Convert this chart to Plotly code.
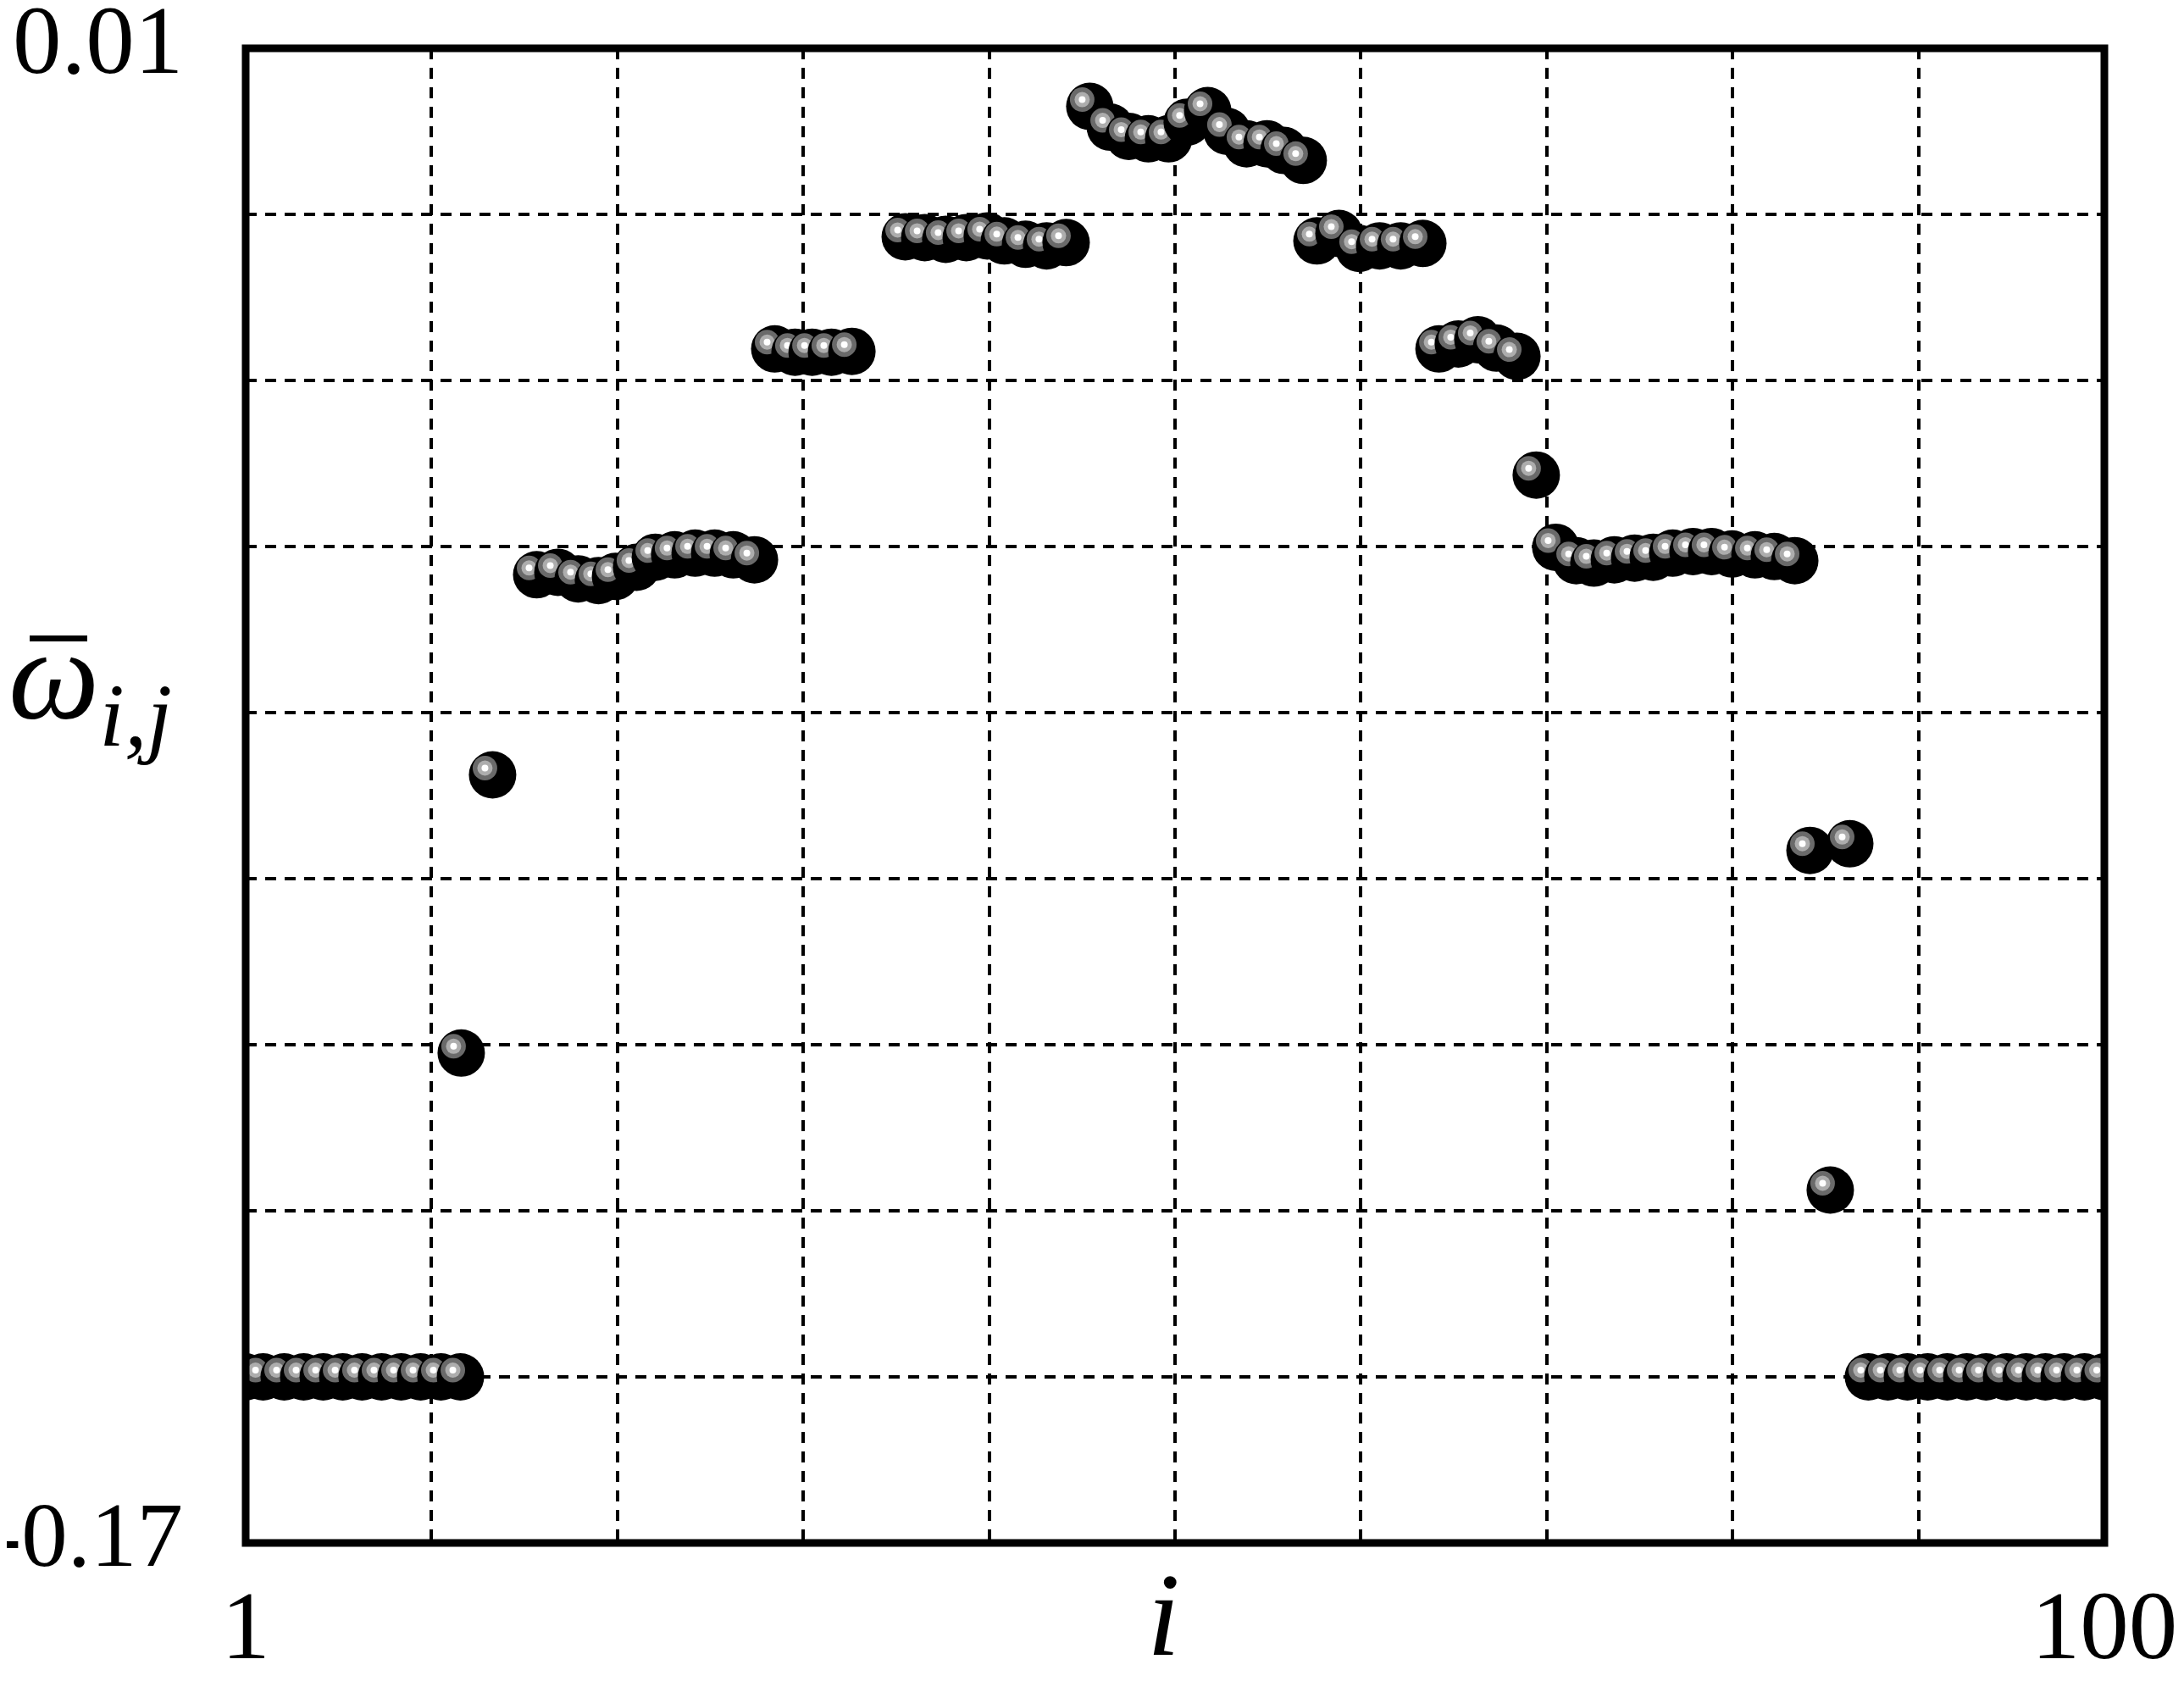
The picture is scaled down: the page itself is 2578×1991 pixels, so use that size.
import plotly.graph_objects as go

# ---- data ----
i_vals = [
    1.0, 1.93, 3.05, 4.09, 5.13, 6.17, 7.20, 8.24, 9.28, 10.32, 11.40, 12.44,
    12.48,
    14.15,
    16.50, 17.63, 18.71, 19.79, 20.70, 21.82, 22.82, 23.85, 24.94, 25.98, 26.97, 28.10,
    29.18, 30.26, 31.17, 32.20, 33.29,
    36.13, 37.17, 38.29, 39.38, 40.50, 41.41, 42.54, 43.66, 44.70,
    45.96, 47.05, 48.04, 49.08, 50.16, 51.15, 52.24, 53.27, 54.31, 55.40, 56.30, 57.33,
    58.06, 59.23, 60.31, 61.40, 62.52, 63.70,
    64.56, 65.59, 66.63, 67.62, 68.71,
    69.74,
    70.78, 71.87, 72.81, 73.90, 74.98, 75.97, 77.01, 78.09, 79.08, 80.17, 81.39, 82.42, 83.51,
    84.32, 85.40, 86.44,
    87.43, 88.47, 89.51, 90.59, 91.63, 92.67, 93.70, 94.79, 95.83, 96.86, 97.86, 98.94, 100.0,
]
omega_vals = [
    -0.150, -0.150, -0.150, -0.150, -0.150, -0.150, -0.150, -0.150, -0.150, -0.150, -0.150, -0.150,
    -0.1110,
    -0.0775,
    -0.0534, -0.0531, -0.0539, -0.0541, -0.0536, -0.0525, -0.0513, -0.0510, -0.0508, -0.0508, -0.0510, -0.0516,
    -0.0262, -0.0266, -0.0266, -0.0266, -0.0265,
    -0.0127, -0.0128, -0.0130, -0.0128, -0.0126, -0.0132, -0.0136, -0.0138, -0.0134,
    0.0030, 0.0005, -0.0006, -0.0009, -0.0009, 0.0011, 0.0025, 0.0000, -0.0015, -0.0015, -0.0023, -0.0035,
    -0.0132, -0.0123, -0.0141, -0.0138, -0.0138, -0.0135,
    -0.0262, -0.0256, -0.0251, -0.0261, -0.0271,
    -0.0414,
    -0.0501, -0.0517, -0.0520, -0.0516, -0.0514, -0.0513, -0.0508, -0.0506, -0.0506, -0.0509, -0.0510, -0.0512, -0.0517,
    -0.0866, -0.1275, -0.0858,
    -0.150, -0.150, -0.150, -0.150, -0.150, -0.150, -0.150, -0.150, -0.150, -0.150, -0.150, -0.150, -0.150,
]

x_tick_vals = [1, 100]
x_tick_text = ["1", "100"]
x_grid_vals = [round(1 + 9.9 * k, 4) for k in range(1, 10)]
y_tick_vals = [-0.17, 0.01]
y_tick_text = ["-0.17", "0.01"]
y_grid_vals = [round(-0.17 + 0.02 * k, 4) for k in range(1, 9)]

# ---- layout geometry (page body has an 8px margin) ----
PAGE_OFF = 8
W, H = 2578 - PAGE_OFF, 1991 - PAGE_OFF
ML, MR, MT, MB = 290 - PAGE_OFF, 94, 57 - PAGE_OFF, 170
X_RANGE = [1, 100]
Y_RANGE = [-0.17, 0.01]
pw = W - ML - MR
ph = H - MT - MB
ux = (X_RANGE[1] - X_RANGE[0]) / pw   # data units per pixel
uy = (Y_RANGE[1] - Y_RANGE[0]) / ph

# sphere look: black ball + offset highlight rings (pixel offsets)
HX, HY = -9, -8
layers = [
    (56, "#000000", 0, 0),
    (29, "#6a6a6a", HX, HY),
    (18, "#adadad", HX, HY),
    (8, "#ffffff", HX, HY),
]

xs, ys, sizes, colors = [], [], [], []
for xi, wi in zip(i_vals, omega_vals):
    for s, c, dx, dy in layers:
        xs.append(xi + dx * ux)
        ys.append(wi - dy * uy)
        sizes.append(s)
        colors.append(c)

fig = go.Figure()
fig.add_trace(go.Scatter(
    x=xs, y=ys, mode="markers",
    marker=dict(size=sizes, color=colors, line=dict(width=0), opacity=1),
    hoverinfo="skip", showlegend=False,
))

FONT = "Liberation Serif, Times New Roman, serif"
common = dict(showgrid=False, zeroline=False, showline=False, ticks="", automargin=False,
              ticklabeloverflow="allow")

def minor_grid(vals):
    return dict(tickmode="array", tickvals=vals, showgrid=True, gridcolor="black",
                gridwidth=3.5, griddash="13px,10px", ticks="")

fig.update_xaxes(range=X_RANGE, tickmode="array", tickvals=x_tick_vals, ticktext=x_tick_text,
                 tickfont=dict(family=FONT, size=115, color="black"),
                 ticklabelstandoff=20, minor=minor_grid(x_grid_vals), **common)
fig.update_yaxes(range=Y_RANGE, tickmode="array", tickvals=y_tick_vals,
                 showticklabels=False, minor=minor_grid(y_grid_vals), **common)

# y tick labels as text placed at the tick values
def px_to_paper_x(px):
    return (px - PAGE_OFF - ML) / pw

def px_to_paper_y(py):
    return (H + PAGE_OFF - MB - py) / ph

for val, txt, fs in zip(y_tick_vals, y_tick_text, [109, 115]):
    fig.add_annotation(xref="paper", yref="y", x=px_to_paper_x(218), y=val,
                       xanchor="right", yanchor="middle", yshift=10, showarrow=False,
                       text=txt, font=dict(family=FONT, size=fs, color="black"))

fig.add_shape(type="rect", xref="paper", yref="paper", x0=0, x1=1, y0=0, y1=1,
              line=dict(color="black", width=9), layer="above")

# y-axis title: omega with bar, subscript i,j
fig.add_annotation(xref="paper", yref="paper", x=px_to_paper_x(8), y=px_to_paper_y(808),
                   xanchor="left", yanchor="middle", showarrow=False,
                   text="<i>ω</i><sub><i>i,j</i></sub>",
                   font=dict(family=FONT, size=152, color="black"))
fig.add_shape(type="line", xref="paper", yref="paper",
              x0=px_to_paper_x(35), x1=px_to_paper_x(103),
              y0=px_to_paper_y(753.5), y1=px_to_paper_y(753.5),
              line=dict(color="black", width=7))

# x-axis title
fig.add_annotation(xref="paper", yref="paper", x=px_to_paper_x(1373), y=px_to_paper_y(1905),
                   xanchor="center", yanchor="middle", showarrow=False,
                   text="<i>i</i>", font=dict(family=FONT, size=140, color="black"))

fig.update_layout(width=W, height=H, margin=dict(l=ML, r=MR, t=MT, b=MB),
                  paper_bgcolor="white", plot_bgcolor="white")

fig.write_html("out.html")
